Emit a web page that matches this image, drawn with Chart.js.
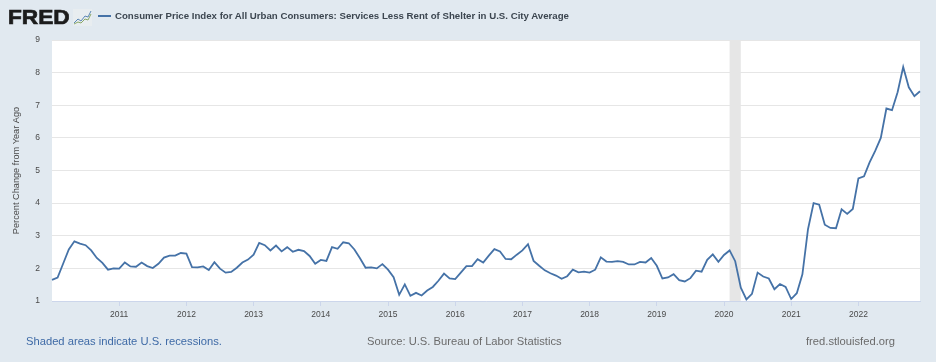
<!DOCTYPE html>
<html>
<head>
<meta charset="utf-8">
<title>Services Less Rent of Shelter</title>
<script src="https://cdn.jsdelivr.net/npm/chart.js@4"></script>
<style>
  html, body { margin: 0; padding: 0; background: #e1e9f0; }
  #wrap { position: relative; width: 936px; height: 362px; overflow: hidden; font-family: "Liberation Sans", Arial, sans-serif; }
  #wrap div { position: absolute; white-space: nowrap; }
  canvas { position: absolute; left: 0; top: 0; }
  #logo { left: 8px; top: 3px; font-size: 21px; line-height: 28px; font-weight: bold; color: #1c1c1c; -webkit-text-stroke: 0.7px #1c1c1c; transform: scaleX(1.08); transform-origin: left center; }
  #icon { position: absolute; left: 73px; top: 9px; }
  #swatch { left: 98px; top: 15px; width: 13px; height: 2px; background: #4572a7; }
  #title { left: 115px; top: 10px; font-size: 9.67px; line-height: 12px; font-weight: bold; color: #3c4650; }
  .foot { top: 334px; font-size: 11.2px; line-height: 14px; color: #6b6b6b; }
  #note { left: 26px; color: #3e6aa6; }
  #source { left: 367px; }
  #site { left: 806px; }
</style>
</head>
<body>
<div id="wrap">
  <canvas id="chart" width="936" height="362"></canvas>
  <div id="logo">FRED</div>
  <svg id="icon" width="19" height="17" viewBox="0 0 19 17">
    <rect width="19" height="17" fill="#e8edf0"/>
    <polyline points="1,14 5,10 8,12 12,7 15,8 18,2" fill="none" stroke="#5b87b5" stroke-width="1"/>
    <polyline points="1,15 5,13 8,14 12,10 15,11 18,5" fill="none" stroke="#8aa868" stroke-width="1"/>
  </svg>
  <div id="swatch"></div>
  <div id="title">Consumer Price Index for All Urban Consumers: Services Less Rent of Shelter in U.S. City Average</div>
  <div id="note" class="foot">Shaded areas indicate U.S. recessions.</div>
  <div id="source" class="foot">Source: U.S. Bureau of Labor Statistics</div>
  <div id="site" class="foot">fred.stlouisfed.org</div>
</div>
<script>
const years = [2010, 2011, 2012, 2013, 2014, 2015, 2016, 2017, 2018, 2019, 2020, 2021, 2022];
const yTicks = [1, 2, 3, 4, 5, 6, 7, 8, 9];

// Percent change from year ago, monthly
const values2010 = [1.65, 1.72, 2.15, 2.58, 2.83, 2.76, 2.71, 2.55, 2.32, 2.17, 1.96, 2.00];
const values2011 = [1.99, 2.18, 2.06, 2.05, 2.18, 2.07, 2.01, 2.14, 2.33, 2.39, 2.39, 2.47];
const values2012 = [2.45, 2.04, 2.03, 2.06, 1.95, 2.19, 1.99, 1.87, 1.89, 2.02, 2.18, 2.27];
const values2013 = [2.42, 2.78, 2.71, 2.55, 2.70, 2.52, 2.65, 2.51, 2.57, 2.53, 2.38, 2.14];
const values2014 = [2.26, 2.23, 2.65, 2.60, 2.80, 2.77, 2.58, 2.31, 2.02, 2.03, 2.00, 2.13];
const values2015 = [1.96, 1.73, 1.19, 1.51, 1.16, 1.25, 1.17, 1.32, 1.43, 1.62, 1.84, 1.69];
const values2016 = [1.67, 1.87, 2.07, 2.07, 2.28, 2.18, 2.39, 2.59, 2.52, 2.29, 2.28, 2.42];
const values2017 = [2.55, 2.74, 2.23, 2.08, 1.94, 1.85, 1.78, 1.68, 1.76, 1.96, 1.88, 1.90];
const values2018 = [1.87, 1.96, 2.34, 2.21, 2.20, 2.22, 2.20, 2.12, 2.12, 2.20, 2.18, 2.32];
const values2019 = [2.08, 1.69, 1.72, 1.82, 1.64, 1.60, 1.70, 1.93, 1.90, 2.26, 2.43, 2.20];
const values2020 = [2.41, 2.55, 2.22, 1.41, 1.05, 1.22, 1.87, 1.75, 1.69, 1.36, 1.52, 1.43];
const values2021 = [1.06, 1.24, 1.82, 3.20, 4.00, 3.95, 3.34, 3.24, 3.23, 3.81, 3.67, 3.82];
const values2022 = [4.76, 4.82, 5.25, 5.60, 6.00, 6.90, 6.85, 7.40, 8.17, 7.55, 7.28, 7.43];

const recession = ['2020-02', '2020-04'];

const seriesValues = [].concat(values2010, values2011, values2012, values2013, values2014,
  values2015, values2016, values2017, values2018, values2019, values2020, values2021, values2022);

const months = [];
years.forEach(y => {
  for (let m = 1; m <= 12; m++) {
    months.push(y + '-' + String(m).padStart(2, '0'));
  }
});

// Grey recession band, sits behind the line
const recessionBand = {
  id: 'recessionBand',
  beforeDatasetsDraw(chart) {
    const { ctx, chartArea, scales } = chart;
    const x0 = scales.x.getPixelForValue(months.indexOf(recession[0]));
    const x1 = scales.x.getPixelForValue(months.indexOf(recession[1]));
    ctx.save();
    ctx.fillStyle = '#e6e6e6';
    ctx.fillRect(x0, chartArea.top, x1 - x0, chartArea.bottom - chartArea.top);
    ctx.restore();
  }
};

// White plot background
const plotBackground = {
  id: 'plotBackground',
  beforeDraw(chart) {
    const { ctx, chartArea } = chart;
    ctx.save();
    ctx.fillStyle = '#ffffff';
    ctx.fillRect(chartArea.left, chartArea.top, chartArea.right - chartArea.left, chartArea.bottom - chartArea.top);
    ctx.restore();
  }
};

const tickFont = { family: '"Liberation Sans", Arial, sans-serif', size: 8.5 };

new Chart(document.getElementById('chart'), {
  type: 'line',
  plugins: [plotBackground, recessionBand],
  data: {
    labels: months,
    datasets: [{
      label: 'Consumer Price Index for All Urban Consumers: Services Less Rent of Shelter in U.S. City Average',
      data: seriesValues,
      borderColor: '#4572a7',
      borderWidth: 1.8,
      pointRadius: 0,
      tension: 0,
      clip: false
    }]
  },
  options: {
    responsive: false,
    animation: false,
    layout: { padding: { top: 40, right: 16, left: 0, bottom: 0 } },
    plugins: {
      legend: { display: false },
      title: { display: false },
      tooltip: { enabled: false }
    },
    scales: {
      x: {
        type: 'category',
        offset: false,
        afterFit(scale) { scale.height = 61; },
        afterBuildTicks(scale) {
          scale.ticks = months
            .map((m, i) => ({ value: i, label: m.slice(0, 4) }))
            .filter(t => months[t.value].endsWith('-01') && t.label !== '2010');
        },
        grid: {
          drawOnChartArea: false,
          drawTicks: true,
          tickLength: 5,
          tickColor: '#ccd6eb',
          tickWidth: 1
        },
        border: { color: '#ccd6eb', width: 1 },
        ticks: {
          autoSkip: false,
          maxRotation: 0,
          minRotation: 0,
          padding: 4,
          color: '#4a4a4a',
          font: tickFont,
          callback(value) { return months[value].slice(0, 4); }
        }
      },
      y: {
        min: 1,
        max: 9,
        afterFit(scale) { scale.width = 52; },
        afterBuildTicks(scale) { scale.ticks = yTicks.map(v => ({ value: v })); },
        grid: {
          color: '#e6e6e6',
          lineWidth: 1,
          drawTicks: false
        },
        border: { display: false },
        title: {
          display: true,
          text: 'Percent Change from Year Ago',
          color: '#4a4a4a',
          font: { family: '"Liberation Sans", Arial, sans-serif', size: 9.2 },
          padding: { top: 11, bottom: 0 }
        },
        ticks: {
          padding: 12,
          color: '#4a4a4a',
          font: tickFont
        }
      }
    }
  }
});
</script>
</body>
</html>
